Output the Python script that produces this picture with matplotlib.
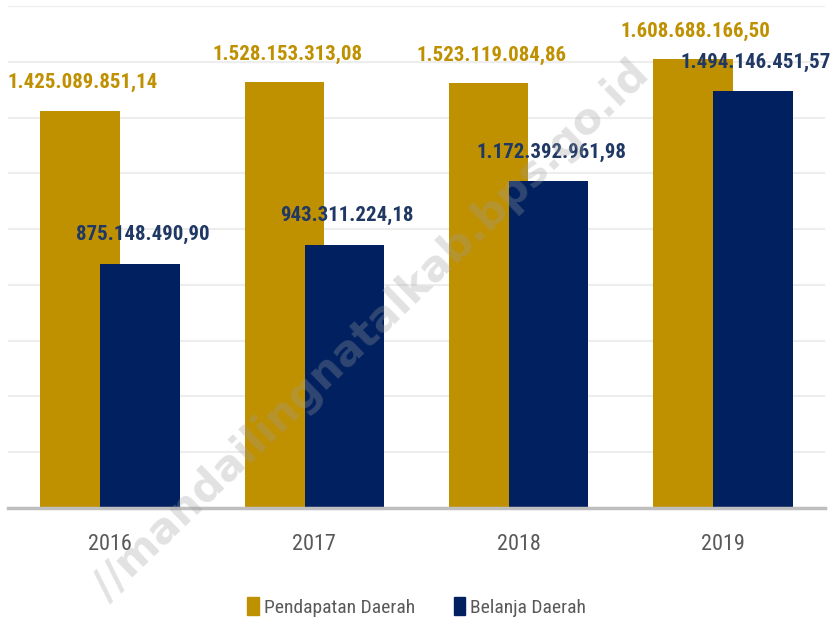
import numpy as np
import matplotlib.pyplot as plt
from matplotlib.patches import Patch

years = ["2016", "2017", "2018", "2019"]
# values in millions of rupiah
pendapatan = [1425.08985114, 1528.15331308, 1523.11908486, 1608.68816650]
belanja = [875.14849090, 943.31122418, 1172.39296198, 1494.14645157]
pendapatan_lbl = ["1.425.089.851,14", "1.528.153.313,08", "1.523.119.084,86", "1.608.688.166,50"]
belanja_lbl = ["875.148.490,90", "943.311.224,18", "1.172.392.961,98", "1.494.146.451,57"]

gold = "#BF9000"
navy = "#002060"
narrow = ["Roboto Condensed", "DejaVu Sans"]

fig = plt.figure(figsize=(8.33, 6.23), dpi=100)
ax = fig.add_axes([0.0096, 0.1846, 0.9808, 0.8058])

x = np.arange(len(years))
w = 0.39
off = 0.147
ax.bar(x - off, pendapatan, w, color=gold, zorder=2)
ax.bar(x + off, belanja, w, color=navy, zorder=3)

for i in range(len(years)):
    ax.annotate(pendapatan_lbl[i], (x[i] - off, pendapatan[i]), xytext=(2, 16),
                textcoords="offset points", ha="center", va="baseline",
                color="#BF9000", fontsize=15, fontweight="bold", family=narrow, zorder=5)
    ax.annotate(belanja_lbl[i], (x[i] + off, belanja[i]), xytext=(2, 17),
                textcoords="offset points", ha="center", va="baseline",
                color="#1F3864", fontsize=15, fontweight="bold", family=narrow, zorder=5)

ax.set_xlim(-0.5, 3.5)
ax.set_ylim(0, 1800)
ax.set_yticks(np.arange(0, 1801, 200))
ax.yaxis.grid(True, color="#EDEDED", linewidth=1.5, zorder=0)
ax.tick_params(axis="y", left=False, labelleft=False)
ax.set_xticks(x)
ax.set_xticklabels(years, family=narrow, fontsize=16, color="#595959")
ax.tick_params(axis="x", length=0, pad=19)
for s in ["top", "right", "left"]:
    ax.spines[s].set_visible(False)
ax.spines["bottom"].set_color("#BFBFBF")
ax.spines["bottom"].set_linewidth(2.5)
ax.spines["bottom"].set_zorder(4)

handles = [Patch(color=gold, label="Pendapatan Daerah"),
           Patch(color=navy, label="Belanja Daerah")]
fig.legend(handles=handles, loc="center", bbox_to_anchor=(0.5, 0.026), ncol=2,
           frameon=False, handlelength=0.6, handleheight=1.1, handletextpad=0.25,
           columnspacing=2.0, prop={"family": narrow, "size": 14}, labelcolor="#595959")

# watermark
fig.text(0.445, 0.47, "//mandailingnatalkab.bps.go.id", rotation=44, ha="center", va="center",
         fontsize=31, fontweight="bold", color="#9E9E9E", alpha=0.3, zorder=10)

fig.savefig("out.png", dpi=100)
